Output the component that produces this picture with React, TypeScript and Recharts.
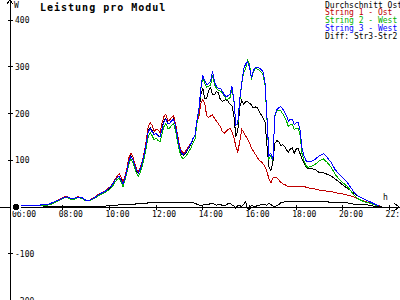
import React from 'react';
import { LineChart, Line, XAxis, YAxis, ReferenceLine } from 'recharts';

const times = [
  '06:00', '06:10', '06:20', '06:30', '06:40', '06:50',
  '07:00', '07:10', '07:20', '07:30', '07:40', '07:50',
  '08:00', '08:10', '08:20', '08:30', '08:40', '08:50',
  '09:00', '09:10', '09:20', '09:30', '09:40', '09:50',
  '10:00', '10:05', '10:10', '10:15', '10:20', '10:25', '10:30', '10:35', '10:40', '10:45', '10:50', '10:55',
  '11:00', '11:05', '11:10', '11:15', '11:20', '11:25', '11:30', '11:35', '11:40', '11:45', '11:50', '11:55',
  '12:00', '12:05', '12:10', '12:15', '12:20', '12:25', '12:30', '12:35', '12:40', '12:45', '12:50', '12:55',
  '13:00', '13:05', '13:10', '13:15', '13:20', '13:25', '13:30', '13:35', '13:40', '13:45', '13:50', '13:55',
  '14:00', '14:05', '14:10', '14:15', '14:20', '14:25', '14:30', '14:35', '14:40', '14:45', '14:50', '14:55',
  '15:00', '15:05', '15:10', '15:15', '15:20', '15:25', '15:30', '15:35', '15:40', '15:45', '15:50', '15:55',
  '16:00', '16:05', '16:10', '16:15', '16:20', '16:25', '16:30', '16:35', '16:40', '16:45', '16:50', '16:55',
  '17:00', '17:05', '17:10', '17:15', '17:20', '17:25', '17:30', '17:35', '17:40', '17:45', '17:50', '17:55',
  '18:00', '18:05', '18:10', '18:15', '18:20', '18:25', '18:30', '18:40', '18:50',
  '19:00', '19:10', '19:20', '19:30', '19:40', '19:50',
  '20:00', '20:10', '20:20', '20:30', '20:40', '20:50',
  '21:00', '21:10', '21:20', '21:30', '21:40',
];

const string1Ost = [
  0, 3, 3, 3, 3, 4,
  4, 4, 5, 8, 12, 16,
  20, 23, 19, 19, 22, 20,
  14, 15, 20, 26, 31, 35,
  42, 46, 53, 60, 66, 71, 64, 54, 66, 83, 105, 115,
  108, 94, 80, 76, 86, 100, 120, 143, 173, 180, 175, 161,
  167, 165, 159, 179, 193, 199, 185, 186, 192, 195, 178, 155,
  132, 120, 115, 118, 125, 131, 137, 146, 154, 182, 193, 222,
  229, 222, 195, 192, 195, 197, 190, 184, 178, 172, 162, 158,
  162, 166, 168, 160, 148, 130, 118, 140, 166, 160, 152, 145,
  138, 126, 120, 113, 106, 100, 97, 92, 86, 75, 60, 52,
  62, 64, 62, 58, 53, 50, 48, 46, 43, 43, 43, 43,
  43, 43, 43, 44, 45, 42, 41, 40, 38,
  36, 35, 34, 33, 31, 29,
  28, 26, 24, 21, 17, 14,
  11, 9, 6, 4, 1,
];

const string2West = [
  0, 3, 3, 3, 3, 4,
  4, 4, 4, 6, 10, 14,
  18, 21, 17, 17, 20, 18,
  13, 14, 18, 23, 28, 32,
  37, 41, 47, 54, 59, 61, 53, 44, 57, 74, 92, 102,
  97, 84, 71, 66, 76, 89, 107, 129, 152, 159, 152, 144,
  148, 142, 140, 155, 172, 178, 169, 169, 175, 178, 163, 140,
  119, 107, 103, 107, 113, 120, 127, 138, 146, 180, 206, 253,
  278, 265, 256, 258, 261, 282, 262, 254, 249, 248, 245, 238,
  231, 231, 234, 254, 226, 178, 176, 227, 264, 289, 295, 314,
  306, 272, 290, 297, 295, 293, 289, 283, 260, 186, 102, 110,
  98, 194, 205, 207, 206, 200, 193, 184, 172, 177, 177, 165,
  169, 169, 154, 114, 99, 89, 85, 87, 92,
  99, 103, 95, 85, 70, 60,
  52, 45, 35, 24, 17, 13,
  10, 8, 5, 2, 0,
];

const string3West = [
  0, 3, 3, 3, 4, 4,
  4, 5, 5, 8, 12, 15,
  19, 22, 19, 19, 21, 20,
  14, 15, 19, 25, 30, 34,
  41, 45, 51, 58, 63, 66, 58, 49, 62, 79, 97, 108,
  103, 90, 78, 73, 83, 97, 115, 137, 161, 168, 161, 154,
  158, 152, 150, 165, 182, 188, 179, 179, 185, 188, 173, 150,
  128, 116, 112, 116, 122, 129, 136, 147, 154, 186, 210, 255,
  282, 270, 262, 264, 268, 290, 268, 258, 254, 254, 248, 240,
  236, 238, 242, 258, 228, 175, 180, 230, 265, 295, 306, 311,
  300, 276, 292, 298, 298, 297, 294, 289, 265, 190, 110, 115,
  100, 195, 208, 212, 215, 210, 204, 195, 183, 188, 188, 176,
  180, 180, 165, 125, 110, 100, 96, 98, 103,
  110, 114, 106, 95, 80, 70,
  62, 54, 42, 30, 23, 19,
  15, 11, 7, 3, 0,
];

const durchschnitt = [
  0, 3, 3, 3, 3, 4,
  4, 4, 5, 7, 11, 15,
  19, 22, 19, 19, 21, 19,
  14, 15, 19, 25, 30, 34,
  40, 44, 51, 58, 63, 66, 59, 50, 62, 79, 99, 109,
  103, 90, 77, 72, 82, 96, 114, 137, 163, 170, 163, 154,
  158, 154, 150, 167, 184, 190, 179, 179, 185, 189, 173, 150,
  127, 114, 110, 114, 121, 128, 135, 145, 153, 183, 202, 240,
  254, 232, 232, 250, 255, 240, 240, 247, 244, 230, 226, 228,
  230, 226, 220, 216, 195, 150, 165, 215, 228, 220, 225, 226,
  222, 218, 212, 214, 212, 205, 197, 190, 182, 130, 85, 78,
  95, 136, 142, 140, 132, 133, 130, 122, 118, 124, 126, 115,
  124, 125, 114, 102, 94, 87, 83, 82, 80,
  73, 73, 70, 66, 60, 54,
  47, 41, 35, 28, 23, 19,
  15, 10, 6, 3, 0,
];

const diffStr3Str2 = [
  0, 0, 0, 0, 0, 0,
  0, 0, 1, 1, 1, 1,
  1, 1, 1, 1, 1, 1,
  1, 1, 1, 2, 2, 2,
  3, 4, 4, 4, 4, 5, 5, 5, 5, 5, 5, 6,
  6, 6, 7, 7, 7, 8, 8, 8, 9, 9, 9, 10,
  10, 10, 10, 10, 10, 10, 10, 10, 10, 10, 10, 10,
  9, 9, 9, 9, 9, 9, 9, 9, 8, 6, 4, 2,
  4, 5, 6, 6, 7, 8, 6, 4, 5, 6, 3, 2,
  5, 7, 8, 4, 2, -3, 4, 3, 1, 6, 11, -3,
  -6, 4, 2, 1, 3, 4, 5, 6, 5, 4, 8, 5,
  2, 1, 3, 5, 9, 10, 11, 11, 11, 11, 11, 11,
  11, 11, 11, 11, 11, 11, 11, 11, 11,
  11, 11, 11, 10, 10, 10,
  10, 9, 7, 6, 6, 6,
  5, 3, 2, 1, 0,
];

const xTickLabels = ['06:00', '08:00', '10:00', '12:00', '14:00', '16:00', '18:00', '20:00', '22:00'];
const yTickValues = [400, 300, 200, 100, -100, -200];
const legendItems = [
  { text: 'Durchschnitt Ost', color: '#000000' },
  { text: 'String 1 - Ost', color: '#c00000' },
  { text: 'String 2 - West', color: '#00b000' },
  { text: 'String 3 - West', color: '#0000ff' },
  { text: 'Diff: Str3-Str2', color: '#000000' },
];

const FONT = '"DejaVu Sans Mono", "Liberation Mono", monospace';
const X_MIN = 5.3148;
const X_MAX = 22.4454;
const Y_MIN = -198.9;
const Y_MAX = 442.8;
const PX_X = (X_MAX - X_MIN) / 400;
const PX_Y = (Y_MAX - Y_MIN) / 300;

const toHours = (s: string) => {
  const [h, m] = s.split(':').map(Number);
  return h + m / 60;
};

const vbOf = (props: any) => {
  const vb = props && props.viewBox ? props.viewBox : props || {};
  return { x: Number(vb.x) || 0, y: Number(vb.y) || 0, width: Number(vb.width) || 0, height: Number(vb.height) || 0 };
};

const xTickLabel = (txt: string) => (props: any) => {
  const vb = vbOf(props);
  return (
    <text x={vb.x - 4} y={vb.y + vb.height + 7.5} fontSize={8} fontFamily={FONT} fill="#000">
      {txt}
    </text>
  );
};

const yTickLabel = (txt: string) => (props: any) => {
  const vb = vbOf(props);
  return (
    <text x={vb.x + 7} y={vb.y + 3} fontSize={8} fontFamily={FONT} fill="#000">
      {txt}
    </text>
  );
};

export default function App() {
  const data = times.map((tm, i) => ({
    t: toHours(tm),
    avg: durchschnitt[i],
    s1: string1Ost[i],
    s2: string2West[i],
    s3: string3West[i],
    diff: diffStr3Str2[i],
  }));
  const axisX = X_MIN + 10 * PX_X;
  const arrowTipX = X_MIN + 399 * PX_X;

  return (
    <div
      style={{
        position: 'absolute',
        left: 0,
        top: 0,
        width: 400,
        height: 300,
        overflow: 'hidden',
        background: '#ffffff',
        shapeRendering: 'crispEdges',
      }}
    >
      <LineChart width={400} height={300} data={data} margin={{ top: 0, right: 0, bottom: 0, left: 0 }}>
        <XAxis type="number" dataKey="t" domain={[X_MIN, X_MAX]} hide allowDataOverflow />
        <YAxis type="number" domain={[Y_MIN, Y_MAX]} hide allowDataOverflow />
        <ReferenceLine y={0} stroke="#000" strokeWidth={1} ifOverflow="visible" />
        <ReferenceLine x={axisX} stroke="#000" strokeWidth={1} ifOverflow="visible" />
        <ReferenceLine
          segment={[{ x: arrowTipX, y: 0 }, { x: arrowTipX - 5 * PX_X, y: 4 * PX_Y }]}
          stroke="#000"
          ifOverflow="visible"
        />
        <ReferenceLine
          segment={[{ x: arrowTipX, y: 0 }, { x: arrowTipX - 5 * PX_X, y: -4 * PX_Y }]}
          stroke="#000"
          ifOverflow="visible"
        />
        <ReferenceLine
          segment={[{ x: axisX, y: Y_MAX }, { x: axisX - 3 * PX_X, y: Y_MAX - 4 * PX_Y }]}
          stroke="#000"
          ifOverflow="visible"
        />
        <ReferenceLine
          segment={[{ x: axisX, y: Y_MAX }, { x: axisX + 3 * PX_X, y: Y_MAX - 4 * PX_Y }]}
          stroke="#000"
          ifOverflow="visible"
        />
        {xTickLabels.map((lbl) => {
          const t = toHours(lbl);
          return (
            <ReferenceLine
              key={'xt' + lbl}
              segment={[{ x: t, y: -2.5 * PX_Y }, { x: t, y: 2.5 * PX_Y }]}
              stroke="#000"
              ifOverflow="visible"
              label={xTickLabel(lbl)}
            />
          );
        })}
        {yTickValues.map((v) => (
          <ReferenceLine
            key={'yt' + v}
            segment={[{ x: X_MIN + 8 * PX_X, y: v }, { x: X_MIN + 13 * PX_X, y: v }]}
            stroke="#000"
            ifOverflow="visible"
            label={yTickLabel(String(v))}
          />
        ))}
        <Line type="linear" dataKey="avg" stroke="#000000" strokeWidth={1} dot={false} isAnimationActive={false} />
        <Line type="linear" dataKey="s1" stroke="#c00000" strokeWidth={1} dot={false} isAnimationActive={false} />
        <Line type="linear" dataKey="s2" stroke="#00b000" strokeWidth={1} dot={false} isAnimationActive={false} />
        <Line type="linear" dataKey="s3" stroke="#0000ff" strokeWidth={1} dot={false} isAnimationActive={false} />
        <Line type="linear" dataKey="diff" stroke="#000000" strokeWidth={1} dot={false} isAnimationActive={false} />
      </LineChart>
      <svg
        width={400}
        height={300}
        style={{ position: 'absolute', left: 0, top: 0, pointerEvents: 'none' }}
      >
        <text x={40} y={10.5} fontSize={10} fontWeight="bold" letterSpacing={1} fontFamily={FONT} fill="#000">
          Leistung pro Modul
        </text>
        <text x={14} y={7.5} fontSize={8} fontFamily={FONT} fill="#000">
          W
        </text>
        <text x={383} y={200} fontSize={8} fontFamily={FONT} fill="#000">
          h
        </text>
        {legendItems.map((it, i) => (
          <text key={it.text} x={325} y={7.5 + i * 7.75} fontSize={8} fontFamily={FONT} fill={it.color}>
            {it.text}
          </text>
        ))}
      </svg>
    </div>
  );
}
